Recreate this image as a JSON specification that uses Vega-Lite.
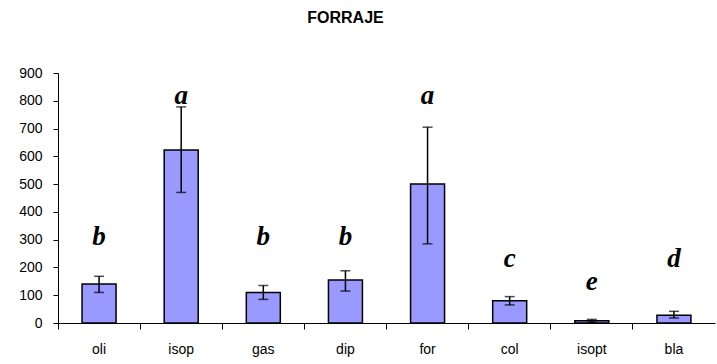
{
  "$schema": "https://vega.github.io/schema/vega-lite/v6.json",
  "width": 657,
  "height": 250,
  "autosize": {"type": "none"},
  "padding": {"left": 58, "top": 73, "right": 2, "bottom": 41},
  "background": "white",
  "title": {
    "text": "FORRAJE",
    "font": "Liberation Sans",
    "fontSize": 16,
    "fontWeight": "bold",
    "color": "black",
    "anchor": "middle",
    "frame": "group",
    "dx": -41,
    "offset": 40
  },
  "data": {
    "values": [
      {"cat": "oli", "mean": 140, "lo": 110, "hi": 168, "letter": "b", "lpos": 281},
      {"cat": "isop", "mean": 623, "lo": 470, "hi": 778, "letter": "a", "lpos": 788},
      {"cat": "gas", "mean": 110, "lo": 85, "hi": 135, "letter": "b", "lpos": 281},
      {"cat": "dip", "mean": 155, "lo": 115, "hi": 188, "letter": "b", "lpos": 281},
      {"cat": "for", "mean": 500, "lo": 285, "hi": 705, "letter": "a", "lpos": 788},
      {"cat": "col", "mean": 80, "lo": 65, "hi": 95, "letter": "c", "lpos": 202},
      {"cat": "isopt", "mean": 8, "lo": 3, "hi": 13, "letter": "e", "lpos": 119},
      {"cat": "bla", "mean": 28, "lo": 18, "hi": 42, "letter": "d", "lpos": 202}
    ]
  },
  "encoding": {
    "x": {
      "field": "cat",
      "type": "nominal",
      "sort": null,
      "scale": {"paddingInner": 0, "paddingOuter": 0},
      "axis": {
        "title": null,
        "labelAngle": 0,
        "bandPosition": 0,
        "domainColor": "black",
        "tickColor": "black",
        "tickSize": 6,
        "labelPadding": 13,
        "labelFont": "Liberation Sans",
        "labelFontSize": 14,
        "labelColor": "black"
      }
    }
  },
  "layer": [
    {
      "mark": {"type": "bar", "fill": "#9999FF", "stroke": "black", "strokeWidth": 1.5, "size": 34},
      "encoding": {
        "y": {
          "field": "mean",
          "type": "quantitative",
          "scale": {"domain": [0, 900], "nice": false},
          "axis": {"title": null, "values": [0, 100, 200, 300, 400, 500, 600, 700, 800, 900]}
        }
      }
    },
    {
      "mark": {"type": "rule", "color": "black", "strokeWidth": 1.5},
      "encoding": {
        "y": {"field": "lo", "type": "quantitative", "axis": {"title": null, "values": [0, 100, 200, 300, 400, 500, 600, 700, 800, 900]}},
        "y2": {"field": "hi"}
      }
    },
    {
      "mark": {"type": "tick", "color": "black", "size": 10, "thickness": 1.5},
      "encoding": {"y": {"field": "lo", "type": "quantitative", "axis": {"title": null, "values": [0, 100, 200, 300, 400, 500, 600, 700, 800, 900]}}}
    },
    {
      "mark": {"type": "tick", "color": "black", "size": 10, "thickness": 1.5},
      "encoding": {"y": {"field": "hi", "type": "quantitative", "axis": {"title": null, "values": [0, 100, 200, 300, 400, 500, 600, 700, 800, 900]}}}
    },
    {
      "mark": {"type": "text", "font": "Liberation Serif", "fontSize": 27, "fontWeight": "bold", "fontStyle": "italic", "color": "black", "baseline": "alphabetic", "align": "center"},
      "encoding": {
        "y": {"field": "lpos", "type": "quantitative", "axis": {"title": null, "values": [0, 100, 200, 300, 400, 500, 600, 700, 800, 900]}},
        "text": {"field": "letter"}
      }
    }
  ],
  "config": {
    "view": {"stroke": null},
    "axisY": {
      "grid": false,
      "labelOverlap": false,
      "labelFlush": false,
      "domainColor": "black",
      "tickColor": "black",
      "tickSize": 5,
      "labelPadding": 11,
      "labelFont": "Liberation Sans",
      "labelFontSize": 14,
      "labelColor": "black"
    }
  }
}
